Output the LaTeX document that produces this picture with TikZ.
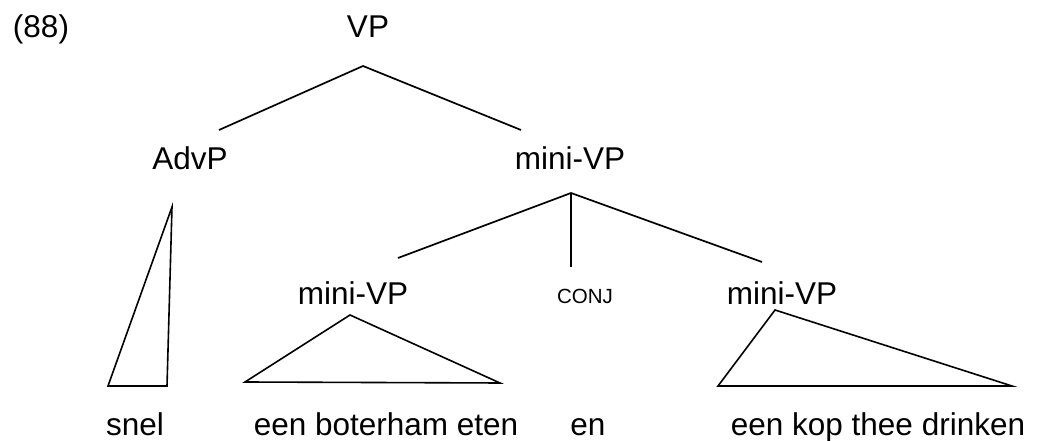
\documentclass[tikz,border=0pt]{standalone}
\usepackage{fontspec}
\setmainfont{Liberation Sans}
\begin{document}
\begin{tikzpicture}[x=1pt,y=1pt,
  lbl/.style={anchor=base,inner sep=0pt,font=\fontsize{31.5}{36}\selectfont},
  small/.style={anchor=base,inner sep=0pt,font=\fontsize{20.5}{24}\selectfont},
  edge/.style={line width=1.7pt},
  thick edge/.style={line width=2.8pt},
  tri/.style={line width=1.6pt,line join=miter}]
\useasboundingbox (0,0) rectangle (1037,441);
% labels
\node[lbl] (num) at (41,403) {(88)};
\node[lbl] (vp) at (368,403) {VP};
\node[lbl] (advp) at (190,271) {AdvP};
\node[lbl] (mvp) at (570,271) {mini-VP};
\node[lbl] (mvpl) at (353,136) {mini-VP};
\node[small] (conj) at (585,137) {CONJ};
\node[lbl] (mvpr) at (782,136) {mini-VP};
\node[lbl] (snel) at (135,5) {snel};
\node[lbl] (boter) at (386,5) {een boterham eten};
\node[lbl] (en) at (588,5) {en};
\node[lbl] (thee) at (878,5) {een kop thee drinken};
% connector points
\coordinate (vpb) at (363,375);
\coordinate (advpt) at (219,311);
\coordinate (mvpt) at (521,311);
\coordinate (mvpb) at (571,248);
\coordinate (mvplt) at (398,183);
\coordinate (conjt) at (571,174);
\coordinate (mvprt) at (762,179);
% branches
\draw[edge] (advpt) -- (vpb) -- (mvpt);
\draw[edge] (mvplt) -- (mvpb) -- (mvprt);
\draw[thick edge] (mvpb) -- (conjt);
% triangles
\draw[tri] (172,234) -- (108,55) -- (167,55) -- cycle;
\draw[tri] (350,126) -- (245,59) -- (500,58) -- cycle;
\draw[tri] (775,131) -- (718,55) -- (1012,55) -- cycle;
\end{tikzpicture}
\end{document}
